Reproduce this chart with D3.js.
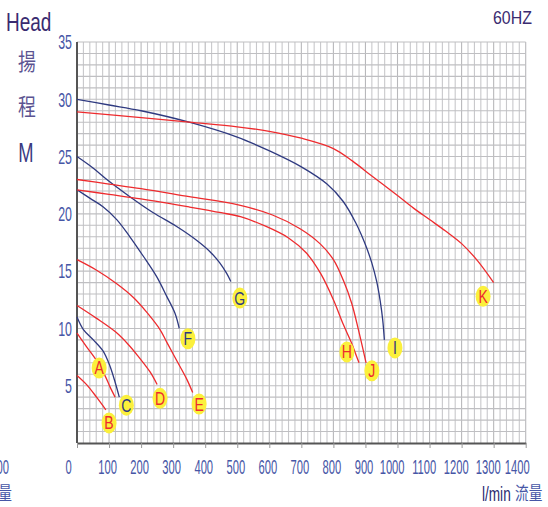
<!DOCTYPE html>
<html><head><meta charset="utf-8">
<script src="https://cdn.jsdelivr.net/npm/d3@7"></script>
<style>
html,body{margin:0;padding:0;background:#fff;}
svg{display:block;}
text{font-family:"Liberation Sans",Arial,sans-serif;}
</style></head>
<body>
<svg id="c" width="548" height="507"></svg>
<script>
// ---- data ----
const xTicks = [0,100,200,300,400,500,600,700,800,900,1000,1100,1200,1300,1400];
const yTicks = [5,10,15,20,25,30,35];
const curveA = [[0,9.6],[30,8.4],[61,7.2],[87,5.9],[103,4.9],[119,4.0]];
const curveB = [[0,5.9],[30,5.1],[61,4.0],[90,2.9]];
const curveC = [[0,11.0],[20,9.9],[51,9.0],[82,8.0],[103,6.7],[119,5.3],[132,4.0]];
const curveD = [[0,12.0],[60,10.9],[120,9.7],[160,8.6],[190,7.6],[228,6.2],[250,5.1]];
const curveE = [[0,16.0],[60,15.1],[124,13.9],[176,12.7],[218,11.4],[259,9.9],[280,8.8],[311,7.2],[342,5.6],[361,4.4]];
const curveF = [[0,22.1],[41,21.35],[82,20.6],[124,19.5],[165,18.0],[207,16.3],[249,14.5],[280,12.8],[306,11.3],[319,10.0]];
const curveG = [[0,25.0],[50,24.0],[93,23.0],[165,21.5],[238,20.1],[311,18.9],[373,17.7],[415,16.7],[446,15.7],[467,14.8],[480,14.1]];
const curveH = [[0,22.1],[100,21.7],[200,21.3],[350,20.6],[450,20.1],[510,19.75],[590,18.9],[660,17.9],[715,16.6],[760,14.8],[800,12.5],[830,10.4],[857,8.7],[873,7.5],[880,7.0]];
const curveI = [[0,30.0],[100,29.5],[200,29.0],[350,28.0],[500,26.7],[600,25.5],[700,24.1],[780,22.6],[830,21.1],[870,19.2],[900,17.3],[920,15.7],[935,14.1],[946,12.4],[954,10.7],[959,9.0]];
const curveJ = [[0,23.0],[100,22.6],[200,22.2],[350,21.5],[500,20.8],[610,19.9],[696,18.7],[758,17.4],[800,16.0],[831,14.2],[857,12.2],[878,9.9],[893,8.1],[902,7.0]];
const curveK = [[0,28.9],[200,28.4],[350,28.0],[500,27.6],[600,27.2],[700,26.6],[800,25.7],[860,24.6],[920,23.3],[1000,21.6],[1050,20.5],[1100,19.5],[1150,18.5],[1200,17.4],[1250,15.9],[1300,14.0]];
const curveNames = ["A","B","C","D","E","F","G","H","I","J","K"];
const curveKinds = ["red","red","blue","red","red","blue","blue","red","blue","red","red"];
const labelPos = [[69,6.55],[100,1.75],[154,3.3],[259,3.9],[381,3.4],[346,9.1],[508,12.65],[842,7.95],[992,8.3],[920,6.3],[1267,12.8]];
const curves = [curveA,curveB,curveC,curveD,curveE,curveF,curveG,curveH,curveI,curveJ,curveK];

// ---- drawing ----
const svg = d3.select("#c");
const x = d3.scaleLinear().domain([0,1400]).range([77,525.7]);
const y = d3.scaleLinear().domain([0,35]).range([443,42]);
const RED = "#ee2b2e", BLUE = "#2f3a80";
const TICKC = "#4656a6";

// grid
const g = svg.append("g");
g.selectAll("line.v").data(d3.range(20,1401,20)).join("line")
  .attr("x1",d=>x(d)).attr("x2",d=>x(d)).attr("y1",y(35)).attr("y2",y(0))
  .attr("stroke",(d)=> d%100===0 ? "#b8b8bb" : "#c8c8cb").attr("stroke-width",1.1);
g.selectAll("line.h").data(d3.range(1,36,1)).join("line")
  .attr("x1",x(0)).attr("x2",x(1400)).attr("y1",d=>y(d)).attr("y2",d=>y(d))
  .attr("stroke","#bfbfc2").attr("stroke-width",1.1);

// axes
const xAxis = d3.axisBottom(x).tickValues(xTicks).tickFormat(d3.format("d")).tickSize(5).tickSizeOuter(0);
const xa = svg.append("g").attr("transform",`translate(0,${y(0)})`).call(xAxis);
xa.select(".domain").attr("stroke","#555").attr("stroke-width",2);
xa.selectAll(".tick line").attr("stroke","#999");
xa.selectAll(".tick text")
  .attr("fill",TICKC).attr("font-size",20).attr("y",31).attr("dy",0)
  .attr("transform","scale(0.56,1)")
  .attr("dx",d=> d===0 ? -16 : d===1400 ? -16 : (d>=1000 ? -10.5 : -3.5));

const yAxis = d3.axisLeft(y).tickValues(yTicks).tickSize(0).tickSizeOuter(0);
const ya = svg.append("g").attr("transform",`translate(${x(0)},0)`).call(yAxis);
ya.select(".domain").attr("stroke","#555").attr("stroke-width",2).attr("d",`M0,${y(35)}V${y(0)}`);
ya.selectAll(".tick text")
  .attr("fill",TICKC).attr("font-size",20).attr("x",-5/0.62).attr("dy","0.34em")
  .attr("transform","scale(0.62,1)");

// curves
const line = d3.line().x(d=>x(d[0])).y(d=>y(d[1])).curve(d3.curveCatmullRom.alpha(0.5));
curves.forEach((c,i)=>{
  svg.append("path").attr("d",line(c)).attr("fill","none")
    .attr("stroke",curveKinds[i]==="red"?RED:BLUE).attr("stroke-width",1.3);
});

// curve labels
labelPos.forEach((p,i)=>{
  const lg = svg.append("g").attr("transform",`translate(${x(p[0])},${y(p[1])})`);
  lg.append("ellipse").attr("rx",7.5).attr("ry",10.5).attr("fill","#fbf03c");
  lg.append("text").text(curveNames[i]).attr("text-anchor","middle")
    .attr("y",6.5).attr("font-size",18).attr("transform","scale(0.78,1)")
    .attr("fill",curveKinds[i]==="red"?RED:BLUE);
});

// titles
function t(str,px,py,size,sx,fill,anchor,family){
  const e = svg.append("text").text(str)
    .attr("transform",`translate(${px},${py}) scale(${sx},1)`)
    .attr("font-size",size).attr("fill",fill).attr("text-anchor",anchor||"start");
  if(family) e.style("font-family",family);
  return e;
}
const CJK = '"Noto Sans CJK TC","Noto Sans CJK SC",sans-serif';
t("Head",6,31,26,0.73,"#3a2b70");
t("揚",27,70,23,0.78,"#5b5391","middle",CJK);
t("程",27,115,23,0.78,"#5b5391","middle",CJK);
t("M",26,162,27,0.68,"#3a3a82","middle");
t("60HZ",493,24,18.5,0.86,"#3a2b70");
t("l/min",482,501,20,0.68,"#2a2a70");
t("流量",515,500,18,0.76,TICKC,"start",CJK);
// cut-off fragments at the left edge (as in the reference)
t("1400",9,474,20,0.56,TICKC,"end");
t("流量",12,500,18,0.76,TICKC,"end",CJK);
</script>
</body></html>
